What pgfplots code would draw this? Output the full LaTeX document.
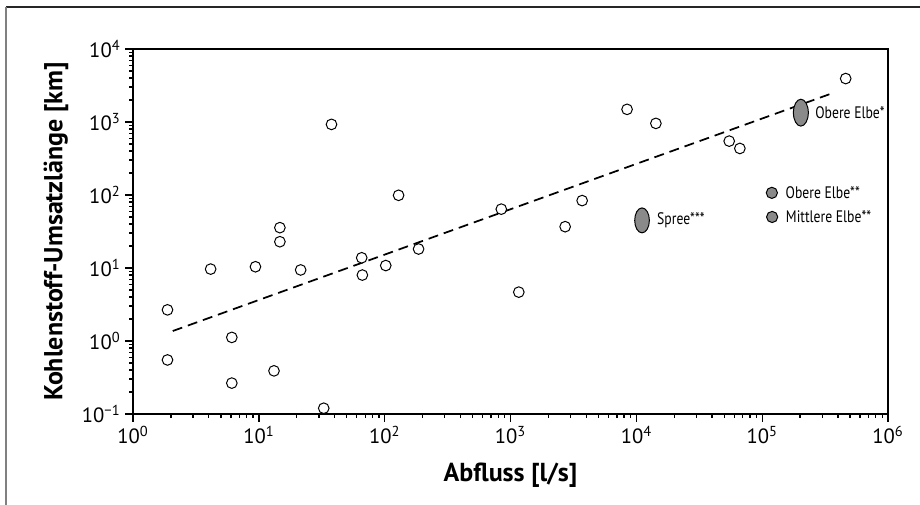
\documentclass[border=0pt]{standalone}
\usepackage{pgfplots}
\pgfplotsset{compat=1.18}
\usepackage{fontspec}
\setmainfont{PT Sans}
\newfontfamily\condfont[FakeStretch=0.82]{PT Sans}
\definecolor{ellgray}{HTML}{8A8A8A}
\begin{document}
\begin{tikzpicture}
\useasboundingbox (-99.75pt,-68.25pt) rectangle (590.25pt,310.5pt);
\draw[black!85, line width=0.8pt] (-95.25pt,305.25pt) -- (590.25pt,305.25pt);
\draw[black!50, line width=1.2pt] (-95.25pt,-68.25pt) -- (-95.25pt,305.25pt);
\begin{axis}[
  at={(0pt,0pt)}, anchor=south west,
  scale only axis, width=566.25pt, height=273.75pt,
  xmode=log, ymode=log,
  xmin=1, xmax=1e6, ymin=0.1, ymax=1e4,
  xtick={1,10,100,1000,10000,100000,1000000},
  xticklabels={10\textsuperscript{0},10\textsuperscript{1},10\textsuperscript{2},10\textsuperscript{3},10\textsuperscript{4},10\textsuperscript{5},10\textsuperscript{6}},
  ytick={0.1,1,10,100,1000,10000},
  yticklabels={10\textsuperscript{\textminus1},10\textsuperscript{0},10\textsuperscript{1},10\textsuperscript{2},10\textsuperscript{3},10\textsuperscript{4}},
  minor xtick={}, minor ytick={},
  tick align=outside, major tick length=6pt,
  xtick pos=bottom, ytick pos=left,
  axis line style={line width=1pt},
  every tick/.style={line width=1pt, black},
  ticklabel style={font=\fontsize{15.5}{18}\selectfont},
  xlabel={Abfluss [l/s]},
  ylabel={Kohlenstoff-Umsatzlänge [km]},
  label style={font=\bfseries\fontsize{19.5}{23}\selectfont},
  xlabel style={at={(axis description cs:0.5,-0.167)}, anchor=center},
  ylabel style={at={(axis description cs:-0.102,0.5)}, anchor=center, rotate=0},
  clip=false,
]
% regression line
\addplot[black, line width=1.3pt, dash pattern=on 7.5pt off 4.5pt] coordinates {(2.07,1.37) (3.72e5,2525)};
% data
\addplot[only marks, mark=*, mark size=4pt, mark options={fill=white, draw=black, line width=0.75pt}] coordinates {
(1.88,2.67) (1.88,0.55) (4.14,9.66) (6.1,1.12) (6.1,0.265) (9.4,10.4)
(14.7,35.7) (14.7,22.9) (13.2,0.39) (21.5,9.4) (32.8,0.12) (37.8,927)
(65.7,13.8) (66.5,8.0) (102,10.8) (129,99) (186,18.2) (845,64)
(1164,4.67) (2718,36.8) (3710,83.8) (8440,1490) (14300,957)
(54700,547) (66500,434) (461000,3935)
};
% Obere Elbe*
\addplot[only marks, mark=*, mark size=5.6pt, mark options={fill=ellgray, draw=black, line width=0.75pt, yscale=1.8},
  point meta=explicit symbolic, nodes near coords,
  every node near coord/.append style={anchor=west, inner sep=0pt, xshift=10.5pt, font=\condfont\fontsize{12.5}{15}\selectfont}]
  coordinates {(2.03e5,1342) [Obere Elbe*]};
% Spree***
\addplot[only marks, mark=*, mark size=5.5pt, mark options={fill=ellgray, draw=black, line width=0.75pt, yscale=1.7},
  point meta=explicit symbolic, nodes near coords,
  every node near coord/.append style={anchor=west, inner sep=0pt, xshift=11pt, font=\condfont\fontsize{12.5}{15}\selectfont}]
  coordinates {(11100,44.9) [Spree***]};
% Obere / Mittlere Elbe**
\addplot[only marks, mark=*, mark size=4.2pt, mark options={fill=ellgray, draw=black, line width=0.75pt},
  point meta=explicit symbolic, nodes near coords,
  every node near coord/.append style={anchor=west, inner sep=0pt, xshift=10pt, font=\condfont\fontsize{12.5}{15}\selectfont}]
  coordinates {(1.194e5,107) [Obere Elbe**] (1.2e5,50) [Mittlere Elbe**]};
\end{axis}
\end{tikzpicture}
\end{document}
